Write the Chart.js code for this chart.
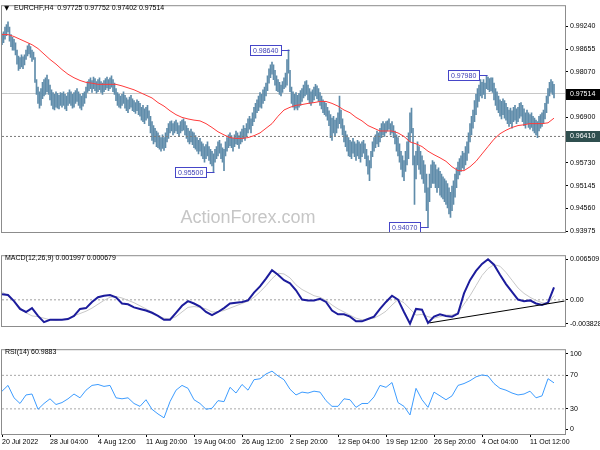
<!DOCTYPE html>
<html>
<head>
<meta charset="utf-8">
<title>EURCHF H4</title>
<script src="https://cdn.jsdelivr.net/npm/chart.js@4.4.1/dist/chart.umd.min.js"></script>
<style>
body { margin: 0; background: #fff; }
#wrap { position: relative; width: 600px; height: 450px; overflow: hidden; background: #fff; }
#wrap canvas { position: absolute; left: 0; }
</style>
</head>
<body>
<div id="wrap">
  <canvas id="priceChart" width="600" height="252" style="top:0px"></canvas>
  <canvas id="macdChart" width="600" height="96" style="top:250px"></canvas>
  <canvas id="rsiChart" width="600" height="106" style="top:344px"></canvas>
</div>
<script>
// EURCHF H4 bars, 20 Jul - 13 Oct 2022 (high / low of each bar)
const highs = [
0.9905,0.9910,0.9922,0.9929,0.9936,0.9922,0.9903,0.9896,
0.9891,0.9882,0.9863,0.9848,0.9844,0.9851,0.9846,0.9851,
0.9863,0.9874,0.9879,0.9872,0.9863,0.9858,0.9844,0.9787,
0.9768,0.9756,0.9764,0.9780,0.9787,0.9792,0.9799,0.9787,
0.9773,0.9761,0.9754,0.9749,0.9756,0.9752,0.9747,0.9754,
0.9752,0.9756,0.9749,0.9745,0.9754,0.9761,0.9756,0.9749,
0.9754,0.9759,0.9764,0.9756,0.9749,0.9745,0.9752,0.9756,
0.9768,0.9782,0.9787,0.9792,0.9785,0.9794,0.9790,0.9782,
0.9787,0.9792,0.9782,0.9778,0.9785,0.9790,0.9794,0.9787,
0.9792,0.9797,0.9787,0.9778,0.9764,0.9754,0.9749,0.9745,
0.9749,0.9756,0.9747,0.9740,0.9735,0.9742,0.9747,0.9738,
0.9733,0.9728,0.9735,0.9731,0.9726,0.9716,0.9721,0.9712,
0.9716,0.9721,0.9707,0.9693,0.9679,0.9669,0.9662,0.9655,
0.9650,0.9643,0.9638,0.9645,0.9638,0.9650,0.9662,0.9674,
0.9679,0.9681,0.9674,0.9679,0.9683,0.9676,0.9669,0.9679,
0.9683,0.9686,0.9679,0.9669,0.9662,0.9655,0.9660,0.9653,
0.9650,0.9643,0.9638,0.9631,0.9636,0.9627,0.9622,0.9615,
0.9620,0.9627,0.9615,0.9608,0.9603,0.9596,0.9608,0.9615,
0.9627,0.9631,0.9622,0.9612,0.9608,0.9627,0.9638,0.9645,
0.9650,0.9643,0.9636,0.9645,0.9655,0.9650,0.9643,0.9653,
0.9660,0.9669,0.9662,0.9674,0.9686,0.9693,0.9686,0.9702,
0.9716,0.9726,0.9735,0.9745,0.9754,0.9749,0.9761,0.9768,
0.9778,0.9797,0.9815,0.9825,0.9832,0.9825,0.9811,0.9797,
0.9787,0.9780,0.9773,0.9782,0.9792,0.9804,0.9839,0.9864,
0.9811,0.9768,0.9756,0.9749,0.9754,0.9747,0.9752,0.9759,
0.9764,0.9773,0.9782,0.9785,0.9773,0.9764,0.9756,0.9761,
0.9768,0.9775,0.9771,0.9764,0.9754,0.9745,0.9735,0.9731,
0.9726,0.9716,0.9707,0.9697,0.9688,0.9693,0.9683,0.9688,
0.9702,0.9745,0.9709,0.9686,0.9669,0.9655,0.9645,0.9638,
0.9631,0.9627,0.9636,0.9627,0.9622,0.9631,0.9627,0.9622,
0.9627,0.9631,0.9622,0.9608,0.9591,0.9579,0.9603,0.9627,
0.9638,0.9645,0.9655,0.9650,0.9662,0.9674,0.9679,0.9674,
0.9679,0.9681,0.9686,0.9674,0.9679,0.9669,0.9655,0.9645,
0.9638,0.9622,0.9603,0.9591,0.9579,0.9603,0.9627,0.9650,
0.9702,0.9714,0.9662,0.9591,0.9603,0.9627,0.9615,0.9603,
0.9591,0.9579,0.9568,0.9544,0.9509,0.9544,0.9568,0.9579,
0.9575,0.9568,0.9556,0.9560,0.9551,0.9544,0.9537,0.9532,
0.9527,0.9520,0.9509,0.9497,0.9513,0.9527,0.9544,0.9560,
0.9575,0.9584,0.9591,0.9603,0.9598,0.9615,0.9627,0.9650,
0.9674,0.9693,0.9709,0.9733,0.9749,0.9764,0.9773,0.9787,
0.9780,0.9787,0.9778,0.9798,0.9794,0.9790,0.9792,0.9792,
0.9778,0.9764,0.9756,0.9745,0.9735,0.9731,0.9738,0.9733,
0.9726,0.9716,0.9709,0.9714,0.9707,0.9716,0.9721,0.9712,
0.9716,0.9726,0.9728,0.9721,0.9712,0.9702,0.9709,0.9702,
0.9697,0.9702,0.9693,0.9688,0.9683,0.9679,0.9693,0.9697,
0.9702,0.9709,0.9726,0.9745,0.9764,0.9780,0.9787,0.9782,
0.97752];
const lows = [
0.9877,0.9882,0.9891,0.9900,0.9910,0.9886,0.9872,0.9863,
0.9863,0.9851,0.9827,0.9811,0.9815,0.9820,0.9815,0.9825,
0.9839,0.9848,0.9853,0.9844,0.9834,0.9839,0.9780,0.9749,
0.9726,0.9714,0.9721,0.9738,0.9745,0.9749,0.9756,0.9749,
0.9735,0.9721,0.9712,0.9709,0.9716,0.9714,0.9712,0.9721,
0.9716,0.9721,0.9712,0.9707,0.9721,0.9726,0.9721,0.9714,
0.9716,0.9726,0.9731,0.9721,0.9714,0.9709,0.9719,0.9726,
0.9740,0.9754,0.9759,0.9764,0.9754,0.9764,0.9759,0.9752,
0.9756,0.9761,0.9754,0.9749,0.9756,0.9761,0.9766,0.9759,
0.9764,0.9768,0.9756,0.9749,0.9733,0.9721,0.9716,0.9714,
0.9721,0.9726,0.9714,0.9707,0.9702,0.9712,0.9716,0.9707,
0.9705,0.9700,0.9707,0.9697,0.9693,0.9683,0.9679,0.9674,
0.9683,0.9688,0.9669,0.9650,0.9631,0.9622,0.9627,0.9615,
0.9612,0.9608,0.9603,0.9610,0.9605,0.9612,0.9627,0.9636,
0.9650,0.9655,0.9645,0.9650,0.9655,0.9648,0.9641,0.9650,
0.9655,0.9657,0.9645,0.9636,0.9627,0.9622,0.9627,0.9620,
0.9612,0.9608,0.9603,0.9596,0.9603,0.9591,0.9584,0.9575,
0.9584,0.9591,0.9579,0.9570,0.9565,0.9550,0.9575,0.9584,
0.9591,0.9598,0.9584,0.9575,0.9553,0.9591,0.9603,0.9612,
0.9617,0.9612,0.9603,0.9615,0.9622,0.9620,0.9610,0.9622,
0.9627,0.9636,0.9631,0.9641,0.9650,0.9660,0.9650,0.9669,
0.9679,0.9688,0.9702,0.9707,0.9716,0.9714,0.9726,0.9733,
0.9745,0.9759,0.9778,0.9792,0.9801,0.9787,0.9773,0.9759,
0.9756,0.9749,0.9745,0.9754,0.9764,0.9768,0.9773,0.9804,
0.9756,0.9726,0.9716,0.9709,0.9714,0.9709,0.9716,0.9721,
0.9731,0.9740,0.9745,0.9749,0.9735,0.9726,0.9721,0.9728,
0.9735,0.9745,0.9738,0.9731,0.9721,0.9712,0.9702,0.9697,
0.9693,0.9683,0.9669,0.9638,0.9631,0.9650,0.9643,0.9650,
0.9662,0.9674,0.9662,0.9645,0.9627,0.9615,0.9603,0.9591,
0.9589,0.9584,0.9598,0.9589,0.9579,0.9591,0.9584,0.9575,
0.9589,0.9598,0.9584,0.9565,0.9544,0.9527,0.9560,0.9589,
0.9603,0.9612,0.9622,0.9615,0.9627,0.9638,0.9645,0.9641,
0.9650,0.9655,0.9660,0.9645,0.9650,0.9638,0.9622,0.9603,
0.9591,0.9575,0.9556,0.9537,0.9527,0.9551,0.9568,0.9584,
0.9627,0.9650,0.9568,0.9466,0.9532,0.9568,0.9556,0.9544,
0.9532,0.9520,0.9497,0.9450,0.9407,0.9473,0.9509,0.9520,
0.9520,0.9509,0.9497,0.9509,0.9490,0.9485,0.9480,0.9473,
0.9466,0.9457,0.9442,0.9433,0.9450,0.9466,0.9485,0.9509,
0.9532,0.9542,0.9551,0.9560,0.9556,0.9568,0.9579,0.9598,
0.9627,0.9645,0.9662,0.9679,0.9697,0.9716,0.9731,0.9745,
0.9740,0.9749,0.9738,0.9764,0.9761,0.9756,0.9759,0.9754,
0.9735,0.9721,0.9709,0.9702,0.9693,0.9686,0.9697,0.9688,
0.9683,0.9674,0.9667,0.9674,0.9662,0.9679,0.9683,0.9674,
0.9679,0.9688,0.9693,0.9679,0.9669,0.9662,0.9674,0.9664,
0.9660,0.9664,0.9655,0.9650,0.9645,0.9638,0.9655,0.9662,
0.9667,0.9674,0.9686,0.9702,0.9726,0.9745,0.9754,0.9749,
0.97402];

// indicator lines, read every 4th bar
const step = 4;
const maLine = [
0.9903,0.9903,0.9898,0.9891,0.9884,0.9877,0.9867,0.9853,0.9839,0.9827,
0.9813,0.9801,0.9792,0.9785,0.9780,0.9778,0.9775,0.9775,0.9775,0.9775,
0.9771,0.9766,0.9761,0.9754,0.9747,0.9740,0.9728,0.9719,0.9707,0.9697,
0.9690,0.9686,0.9683,0.9681,0.9674,0.9664,0.9653,0.9645,0.9638,0.9636,
0.9636,0.9638,0.9643,0.9650,0.9662,0.9674,0.9693,0.9709,0.9716,0.9721,
0.9723,0.9726,0.9728,0.9731,0.9731,0.9726,0.9719,0.9709,0.9702,0.9690,
0.9681,0.9669,0.9662,0.9655,0.9655,0.9655,0.9650,0.9641,0.9627,0.9622,
0.9615,0.9603,0.9594,0.9586,0.9577,0.9563,0.9553,0.9553,0.9563,0.9577,
0.9596,0.9615,0.9634,0.9648,0.9657,0.9664,0.9669,0.9671,0.9674,0.9674,
0.9674,0.9676,0.9688];
const macdMain = [
0.00091,0.00078,-0.00021,-0.00146,-0.00195,-0.00133,-0.00258,-0.00357,-0.00320,-0.00320,
-0.00320,-0.00308,-0.00258,-0.00146,-0.00133,-0.00034,0.00041,0.00066,0.00078,0.00041,
-0.00059,-0.00071,-0.00121,-0.00146,-0.00171,-0.00208,-0.00258,-0.00320,-0.00320,-0.00208,
-0.00096,-0.00021,-0.00059,-0.00108,-0.00195,-0.00245,-0.00195,-0.00133,-0.00059,-0.00046,
-0.00034,-0.00009,0.00116,0.00215,0.00340,0.00477,0.00402,0.00315,0.00265,0.00153,
0.00004,-0.00009,-0.00009,0.00016,-0.00034,-0.00171,-0.00233,-0.00233,-0.00270,-0.00345,
-0.00345,-0.00308,-0.00270,-0.00146,-0.00034,0.00066,0.00004,-0.00195,-0.00383,-0.00146,
-0.00158,-0.00370,-0.00270,-0.00233,-0.00258,-0.00270,-0.00220,0.00103,0.00315,0.00464,
0.00576,0.00651,0.00564,0.00402,0.00253,0.00128,0.00004,-0.00021,-0.00009,-0.00059,
-0.00083,-0.00046,0.00200];
const macdSignal = [
0.00128,0.00066,-0.00021,-0.00121,-0.00208,-0.00258,-0.00270,-0.00295,-0.00320,-0.00332,
-0.00320,-0.00295,-0.00258,-0.00220,-0.00183,-0.00133,-0.00071,-0.00009,0.00041,0.00054,
0.00029,-0.00009,-0.00046,-0.00096,-0.00146,-0.00195,-0.00258,-0.00295,-0.00308,-0.00270,
-0.00195,-0.00121,-0.00108,-0.00121,-0.00146,-0.00195,-0.00195,-0.00171,-0.00133,-0.00096,
-0.00059,-0.00021,0.00041,0.00128,0.00228,0.00340,0.00427,0.00415,0.00352,0.00240,
0.00166,0.00116,0.00066,0.00041,-0.00009,-0.00083,-0.00146,-0.00195,-0.00245,-0.00295,
-0.00320,-0.00308,-0.00295,-0.00245,-0.00183,-0.00083,0.00004,-0.00046,-0.00146,-0.00245,
-0.00233,-0.00270,-0.00295,-0.00270,-0.00245,-0.00245,-0.00208,-0.00071,0.00066,0.00228,
0.00390,0.00502,0.00564,0.00539,0.00439,0.00315,0.00190,0.00103,0.00041,-0.00009,
-0.00046,-0.00059,0.00068];
const rsiLine = [
51.1,58.0,43.2,36.4,46.6,47.7,29.5,36.4,42.0,35.2,
37.5,42.0,47.7,43.2,52.3,58.0,59.1,56.8,58.0,43.2,
42.0,43.2,36.4,33.0,40.9,29.5,23.9,19.3,38.6,52.3,
58.0,54.5,40.9,36.4,29.5,30.7,39.8,38.6,55.7,48.9,
59.1,52.3,64.8,65.9,71.6,75.0,69.3,64.8,53.4,46.6,
50.0,48.9,51.1,50.0,39.8,33.0,33.0,42.0,40.9,31.8,
36.4,36.4,44.3,58.0,55.7,61.4,37.5,33.0,22.7,54.5,
40.9,31.8,50.0,45.5,40.9,45.5,58.0,60.2,63.6,68.2,
70.5,69.3,60.2,54.5,52.3,48.9,46.6,47.7,51.1,43.2,
45.5,66.0,61.0];

const timeLabels = ['20 Jul 2022', '28 Jul 04:00', '4 Aug 12:00', '11 Aug 20:00', '19 Aug 04:00',
  '26 Aug 12:00', '2 Sep 20:00', '12 Sep 04:00', '19 Sep 12:00', '26 Sep 20:00', '4 Oct 04:00', '11 Oct 12:00'];
const labelEvery = 32;

const priceTicks = [0.99240, 0.98655, 0.98070, 0.97485, 0.96900, 0.96315, 0.95730, 0.95145, 0.94560, 0.93975];
const macdTicks = [0.006509, 0, -0.003828];
const rsiTicks = [0, 30, 70, 100];
const rsiLevels = [30, 70];

const lastBar = { open: 0.97725, high: 0.97752, low: 0.97402, close: 0.97514 };
const supportLevel = 0.96410;
const priceMarks = [
  { bar: 191, price: 0.98640 },
  { bar: 323, price: 0.97980 },
  { bar: 141, price: 0.95500 },
  { bar: 284, price: 0.94070 }
];
const macdNow = [0.001997, 0.000679];
const rsiNow = 60.9883;
// macd trendline (bar, value)
const macdTrend = [{ x: 285, y: -0.0037 }, { x: 375, y: -0.0002 }];

const FONT = "'Liberation Sans', Arial, sans-serif";
const FS = 7;
const X_MAX = 375.33;

Chart.defaults.font.family = FONT;
Chart.defaults.font.size = FS;
Chart.defaults.color = '#000';
Chart.defaults.animation = false;
Chart.defaults.events = [];
Chart.defaults.plugins.legend.display = false;
Chart.defaults.plugins.tooltip.enabled = false;

const series = arr => arr.map((v, i) => ({ x: i * step, y: v }));
const flat = v => [{ x: 0, y: v }, { x: X_MAX, y: v }];

function xAxis(show) {
  return {
    type: 'linear', min: 0, max: X_MAX, offset: false, display: show,
    afterFit(s) { s.height = 16; },
    afterBuildTicks(s) { s.ticks = timeLabels.map((t, i) => ({ value: i * labelEvery })); },
    grid: { drawOnChartArea: false, offset: false, tickLength: 3, tickColor: '#000' },
    border: { display: false },
    ticks: { align: 'start', padding: 1, autoSkip: false, maxRotation: 0,
      callback: (v, i) => timeLabels[i] }
  };
}

function yAxis(min, max, ticks, fmt) {
  return {
    position: 'right', min, max,
    afterFit(s) { s.width = 35; },
    afterBuildTicks(s) { s.ticks = ticks.map(v => ({ value: v })); },
    grid: { drawOnChartArea: false, tickLength: 3, tickColor: '#000' },
    border: { display: false },
    ticks: { padding: 2, callback: fmt }
  };
}

// grey frame round the plot area of each pane
const frame = {
  id: 'frame',
  afterDraw(chart) {
    const { ctx, chartArea: a } = chart;
    ctx.save();
    ctx.strokeStyle = '#8c8c8c';
    ctx.lineWidth = 1;
    ctx.strokeRect(a.left - 0.5, a.top - 0.5, a.right - a.left + 1, a.bottom - a.top + 1);
    ctx.restore();
  }
};

function paneTitle(text, xText) {
  return {
    id: 'paneTitle',
    afterDraw(chart) {
      const ctx = chart.ctx;
      ctx.save();
      ctx.fillStyle = '#000';
      ctx.textBaseline = 'middle';
      ctx.font = FS + 'px ' + FONT;
      ctx.fillText(text, xText, 8);
      ctx.restore();
    }
  };
}

const priceExtras = {
  id: 'priceExtras',
  beforeDatasetsDraw(chart) {
    const ctx = chart.ctx;
    ctx.save();
    ctx.fillStyle = '#c6c6c6';
    ctx.font = '18px ' + FONT;
    ctx.textAlign = 'center';
    ctx.textBaseline = 'middle';
    ctx.fillText('ActionForex.com', 248, 218);
    ctx.restore();
  },
  afterDatasetsDraw(chart) {
    const { ctx, scales: { x, y } } = chart;
    ctx.save();
    ctx.font = FS + 'px ' + FONT;
    ctx.lineWidth = 1;
    priceMarks.forEach(m => {
      const px = Math.round(x.getPixelForValue(m.bar)) + 0.5;
      const py = Math.round(y.getPixelForValue(m.price)) + 0.5;
      const txt = m.price.toFixed(5);
      const w = Math.ceil(ctx.measureText(txt).width) + 5;
      const right = px - 8;
      ctx.fillStyle = '#fff';
      ctx.fillRect(right - w, py - 5, w, 10);
      ctx.strokeStyle = '#4646c8';
      ctx.strokeRect(right - w, py - 5, w, 10);
      ctx.beginPath();
      ctx.moveTo(right, py);
      ctx.lineTo(px, py);
      ctx.stroke();
      ctx.fillStyle = '#3c3cb4';
      ctx.textBaseline = 'middle';
      ctx.fillText(txt, right - w + 2.5, py + 0.5);
    });
    ctx.restore();
  },
  afterDraw(chart) {
    const { ctx, chartArea: a, scales: { y } } = chart;
    ctx.save();
    ctx.font = FS + 'px ' + FONT;
    ctx.textBaseline = 'middle';
    [[lastBar.close, '#000'], [supportLevel, '#2f4f4f']].forEach(([v, fill]) => {
      const py = Math.round(y.getPixelForValue(v));
      ctx.fillStyle = fill;
      ctx.fillRect(a.right + 1, py - 5, 600 - a.right - 1, 11);
      ctx.fillStyle = '#fff';
      ctx.fillText(v.toFixed(5), a.right + 5, py + 0.5);
    });
    // symbol line
    ctx.fillStyle = '#000';
    ctx.font = '7px DejaVu Sans';
    ctx.fillText('\u25BC', 4, 8);
    ctx.restore();
  }
};

new Chart(document.getElementById('priceChart'), {
  type: 'bar',
  data: {
    datasets: [
      { type: 'line', data: series(maLine), borderColor: '#ff3b3b', borderWidth: 1, pointRadius: 0, order: 1 },
      { type: 'line', data: flat(supportLevel), borderColor: '#7a7a7a', borderWidth: 1, borderDash: [2, 2], pointRadius: 0, order: 2 },
      { data: highs.map((h, i) => ({ x: i, y: [lows[i], h] })), backgroundColor: '#5f8caa', barThickness: 1, order: 3 },
      { type: 'line', data: flat(lastBar.close), borderColor: '#c8c8c8', borderWidth: 1, pointRadius: 0, order: 4 }
    ]
  },
  options: {
    responsive: false,
    layout: { padding: { left: 2, top: 2, right: 0, bottom: 4 } },
    scales: {
      x: xAxis(false),
      y: yAxis(0.93952, 0.99760, priceTicks, v => v.toFixed(5))
    }
  },
  plugins: [priceExtras, frame,
    paneTitle('EURCHF,H4  ' + [lastBar.open, lastBar.high, lastBar.low, lastBar.close].map(v => v.toFixed(5)).join(' '), 14)]
});

new Chart(document.getElementById('macdChart'), {
  type: 'line',
  data: {
    datasets: [
      { data: series(macdMain), borderColor: '#1c1c9c', borderWidth: 2, pointRadius: 0, order: 1 },
      { data: series(macdSignal), borderColor: '#c8c8c8', borderWidth: 1, pointRadius: 0, order: 2 },
      { data: macdTrend, borderColor: '#000', borderWidth: 1, pointRadius: 0, order: 0 },
      { data: flat(0), borderColor: '#a0a0a0', borderWidth: 1, borderDash: [2, 2], pointRadius: 0, order: 3 }
    ]
  },
  options: {
    responsive: false,
    layout: { padding: { left: 2, top: 2, right: 0, bottom: 4 } },
    scales: {
      x: xAxis(false),
      y: yAxis(-0.0042, 0.0070, macdTicks, v => v === 0 ? '0.00' : v.toFixed(6))
    }
  },
  plugins: [frame, paneTitle('MACD(12,26,9) ' + macdNow.map(v => v.toFixed(6)).join(' '), 5)]
});

const rsiY = yAxis(0, 100, rsiTicks, String);
// MT4 draws the 0 and 100 labels just inside the pane
rsiY.afterBuildTicks = s => { s.ticks = rsiTicks.map(v => ({ value: v === 0 ? 5.5 : v === 100 ? 95.5 : v })); };
rsiY.ticks.callback = v => v < 10 ? '0' : v > 90 ? '100' : String(v);

new Chart(document.getElementById('rsiChart'), {
  type: 'line',
  data: {
    datasets: [
      { data: series(rsiLine), borderColor: '#3d9cff', borderWidth: 1, pointRadius: 0, order: 1 },
      ...rsiLevels.map(v => ({ data: flat(v), borderColor: '#a8a8a8', borderWidth: 1, borderDash: [2, 2], pointRadius: 0, order: 2 }))
    ]
  },
  options: {
    responsive: false,
    layout: { padding: { left: 2, top: 2, right: 0, bottom: 0 } },
    scales: {
      x: xAxis(true),
      y: rsiY
    }
  },
  plugins: [frame, paneTitle('RSI(14) ' + rsiNow.toFixed(4), 5)]
});
</script>
</body>
</html>
